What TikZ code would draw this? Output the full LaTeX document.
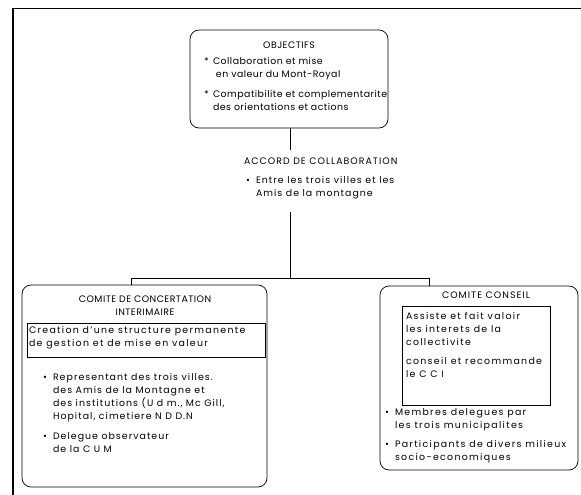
\documentclass[tikz,border=0pt]{standalone}
\usepackage{fontspec}
\setmainfont{Poppins}[LetterSpace=5]
\begin{document}
\begin{tikzpicture}[x=1pt,y=-1pt,
  every node/.style={inner sep=0pt, outer sep=0pt},
  txt/.style={font=\fontsize{9.4}{13}\selectfont, align=left, anchor=north west},
  wide/.style={txt, font=\fontsize{9.4}{13}\selectfont\addfontfeatures{LetterSpace=11}},
  wider/.style={txt, font=\fontsize{9.4}{13}\selectfont\addfontfeatures{LetterSpace=14}},
  ttl/.style={font=\fontsize{9.4}{13}\selectfont, align=center},
  rbox/.style={draw, line width=0.7pt, rounded corners=9pt, rectangle},
  ibox/.style={draw, line width=0.7pt, rectangle},
  conn/.style={line width=0.7pt}]
\useasboundingbox (0,0) rectangle (581,495);
% outer frame (top and left edges)
\coordinate (ftr) at (581,8);
\coordinate (ftl) at (13,8);
\coordinate (fbl) at (13,495);
\draw[line width=0.8pt] (ftr) -- (ftl);
\draw[line width=1.6pt] (ftl) -- (fbl);
% boxes
\node[rbox, minimum width=198pt, minimum height=98pt] (obj) at (289,79) {};
\node[rbox, minimum width=245pt, minimum height=202pt] (cci) at (144.5,386) {};
\node[rbox, minimum width=198pt, minimum height=184pt] (cc) at (479,378) {};
\node[ibox, minimum width=238pt, minimum height=34pt] (cciin) at (146,340) {};
\node[ibox, minimum width=148pt, minimum height=99pt] (ccin) at (476,355.5) {};
% objectifs
\node[ttl] (objt) at (289,45) {OBJECTIFS};
\node[txt] (ob1s) at (204,55) {\strut*};
\node[txt] (ob1) at (213,55) {\strut Collaboration et mise\\\ en valeur du Mont-Royal};
\node[txt] (ob2s) at (204,88) {\strut*};
\node[txt] (ob2) at (213,88) {\strut Compatibilite et complementarite\\des orientations et actions};
% accord
\node[wide] (acc) at (244,158) {ACCORD DE COLLABORATION};
\node[txt] (acc1s) at (246,174) {\strut\textbullet};
\node[wide] (acc1) at (256,174) {\strut Entre les trois villes et les\\Amis de la montagne};
% left committee
\node[ttl] (ccit) at (145,306) {COMITE DE CONCERTATION\\INTERIMAIRE};
\node[wider] (ccia) at (29,324) {\strut Creation d'une structure permanente\\de gestion et de mise en valeur};
\node[txt] (ccb1s) at (43,371) {\strut\textbullet};
\node[wide] (ccb1) at (53,371) {\strut Representant des trois villes.\\des Amis de la Montagne et\\des institutions (U d m., Mc Gill,\\Hopital, cimetiere N D D.N};
\node[txt] (ccb2s) at (43,430) {\strut\textbullet};
\node[wide] (ccb2) at (53,430) {\strut Delegue observateur\\de la C U M};
% right committee
\node[wide] (cct) at (442,292) {COMITE CONSEIL};
\node[wider] (cca) at (406,310) {\strut Assiste et fait valoir\\les interets de la\\collectivite};
\node[wider] (ccc) at (406,355) {\strut conseil et recommande\\le C C I};
\node[txt] (ccd1s) at (385,406) {\strut\textbullet};
\node[wider] (ccd1) at (395,406) {\strut Membres delegues par\\les trois municipalites};
\node[txt] (ccd2s) at (385,438) {\strut\textbullet};
\node[wider] (ccd2) at (395,438) {\strut Participants de divers milieux\\socio-economiques};
% connectors
\coordinate (j) at (290,278);
\coordinate (jl) at (131,278);
\coordinate (jr) at (429,278);
\draw[conn] (obj.south -| j) -- (j |- 0,150);
\draw[conn] (j |- 0,212) -- (j);
\draw[conn] (jl) -- (jr);
\draw[conn] (jl) -- (jl |- cci.north);
\draw[conn] (jr) -- (jr |- cc.north);
\end{tikzpicture}
\end{document}
